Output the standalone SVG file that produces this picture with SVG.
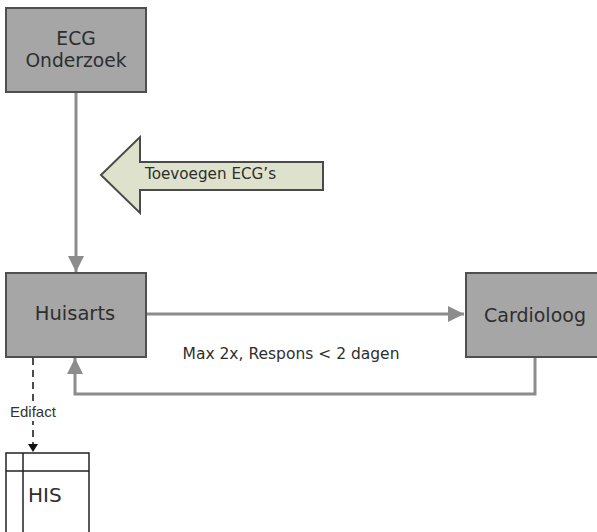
<svg xmlns="http://www.w3.org/2000/svg" width="597" height="532" viewBox="0 0 597 532">
<style>
.box{fill:#a6a6a6;stroke:#4f4f4f;stroke-width:2}
.lbl{font-family:"DejaVu Sans",Verdana,sans-serif;fill:#2e2e2e}
.con{fill:none;stroke:#8c8c8c;stroke-width:3}
</style>
<defs>
<marker id="ah" markerUnits="userSpaceOnUse" markerWidth="18" markerHeight="16" refX="16" refY="8" orient="auto">
<path d="M0,0 L16,8 L0,16 Z" fill="#8c8c8c"/>
</marker>
<marker id="ahs" markerUnits="userSpaceOnUse" markerWidth="10" markerHeight="10" refX="8" refY="5" orient="auto">
<path d="M0,0 L8,5 L0,10 Z" fill="#111"/>
</marker>
</defs>
<rect width="597" height="532" fill="#fff"/>
<g id="connectors">
<line class="con" x1="76" y1="93" x2="76" y2="272" marker-end="url(#ah)"/>
<line class="con" x1="147" y1="314" x2="464" y2="314" marker-end="url(#ah)"/>
<polyline class="con" points="535,358 535,394 75,394 75,358" marker-end="url(#ah)"/>
<line x1="33" y1="358" x2="33" y2="452" stroke="#111" stroke-width="1.5" stroke-dasharray="7,5" marker-end="url(#ahs)"/>
<text class="lbl" x="291" y="359" font-size="15.5" text-anchor="middle">Max 2x, Respons &lt; 2 dagen</text>
<rect x="10" y="403" width="48" height="18" fill="#fff"/>
<text x="10" y="417" font-family="Liberation Sans, Arial, sans-serif" font-size="15" fill="#333">Edifact</text>
</g>
<g id="toevoegen">
<polygon points="101,175 140,137 140,162 323,162 323,190 140,190 140,213" fill="#dee1cb" stroke="#4a4a4a" stroke-width="2"/>
<text class="lbl" x="145" y="179" font-size="15.2">Toevoegen ECG’s</text>
</g>
<g id="ecg">
<rect class="box" x="6" y="8" width="140" height="84"/>
<text class="lbl" x="76" y="45" font-size="18.7" text-anchor="middle">ECG</text>
<text class="lbl" x="76" y="67" font-size="18.7" text-anchor="middle">Onderzoek</text>
</g>
<g id="huisarts">
<rect class="box" x="6" y="273" width="140" height="84"/>
<text class="lbl" x="75" y="320" font-size="19.5" text-anchor="middle">Huisarts</text>
</g>
<g id="cardioloog">
<rect class="box" x="466" y="273" width="140" height="84"/>
<text class="lbl" x="535" y="322" font-size="19" text-anchor="middle">Cardioloog</text>
</g>
<g id="his">
<rect x="6" y="453" width="83" height="100" fill="#fff" stroke="#222" stroke-width="1.5"/>
<line x1="6" y1="471" x2="89" y2="471" stroke="#222" stroke-width="1.5"/>
<line x1="23" y1="453" x2="23" y2="540" stroke="#222" stroke-width="1.5"/>
<text class="lbl" x="28" y="502" font-size="20">HIS</text>
</g>
</svg>
